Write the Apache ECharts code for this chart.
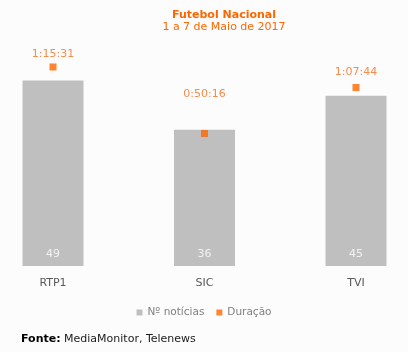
<!DOCTYPE html>
<html>
<head>
<meta charset="utf-8">
<script src="https://cdn.jsdelivr.net/npm/echarts@6/dist/echarts.min.js"></script>
<style>
  html, body { margin: 0; padding: 0; background: #fcfcfc; }
  #chart { width: 408px; height: 352px; }
</style>
</head>
<body>
<div id="chart"></div>
<script>
const categories = ['RTP1', 'SIC', 'TVI'];
const noticias = [49, 36, 45];
const duracao = ['1:15:31', '0:50:16', '1:07:44'];
// gap between marker and its label (the source places them by hand)
const labelGap = [4, 30, 6];

const toSeconds = (s) => {
    const p = s.split(':').map(Number);
    return p[0] * 3600 + p[1] * 60 + p[2];
};

const orange = '#ff6600';
const grey = '#bfbfbf';
const font = 'DejaVu Sans';

const myChart = echarts.init(document.getElementById('chart'));

const option = {
    backgroundColor: '#fcfcfc',
    textStyle: { fontFamily: font },
    title: {
        text: 'Futebol Nacional',
        subtext: '1 a 7 de Maio de 2017',
        left: 219,
        textAlign: 'center',
        top: 5,
        itemGap: 1,
        textStyle: { color: orange, fontSize: 11, fontWeight: 'bold', fontFamily: font },
        subtextStyle: { color: orange, fontSize: 11, fontFamily: font }
    },
    legend: {
        bottom: 29,
        left: 'center',
        itemWidth: 6,
        itemHeight: 6,
        itemGap: 12,
        icon: 'rect',
        textStyle: { color: '#808080', fontSize: 10.5, fontFamily: font },
        data: ['Nº notícias', 'Duração']
    },
    grid: {
        left: 53,
        right: 52,
        top: 39,
        bottom: 86
    },
    xAxis: {
        type: 'category',
        boundaryGap: false,
        data: categories,
        axisLine: { show: false },
        axisTick: { show: false },
        axisLabel: { color: '#595959', fontSize: 11, margin: 12, fontFamily: font }
    },
    yAxis: [{
        type: 'value',
        min: 0,
        max: 60,
        show: false
    }, {
        type: 'value',
        min: 0,
        max: 5168,
        show: false
    }],
    graphic: [{
        type: 'text',
        left: 21,
        top: 334,
        style: {
            text: '{b|Fonte:} MediaMonitor, Telenews',
            fill: '#1a1a1a',
            font: '11px ' + font,
            rich: {
                b: { fontWeight: 'bold', fontSize: 11, fontFamily: font, fill: '#000' }
            }
        }
    }],
    series: [{
        name: 'Nº notícias',
        type: 'bar',
        barWidth: 61,
        itemStyle: { color: grey },
        label: {
            show: true,
            position: 'insideBottom',
            distance: 6,
            color: '#f2f2f2',
            fontSize: 11,
            fontFamily: font
        },
        data: noticias
    }, {
        name: 'Duração',
        type: 'scatter',
        yAxisIndex: 1,
        symbol: 'rect',
        symbolSize: 7,
        itemStyle: { color: orange },
        data: duracao.map((d, i) => ({
            value: toSeconds(d),
            label: {
                show: true,
                position: 'top',
                distance: labelGap[i],
                formatter: d,
                color: '#f07020',
                fontSize: 11,
                fontFamily: font
            }
        }))
    }]
};

myChart.setOption(option);
</script>
</body>
</html>
